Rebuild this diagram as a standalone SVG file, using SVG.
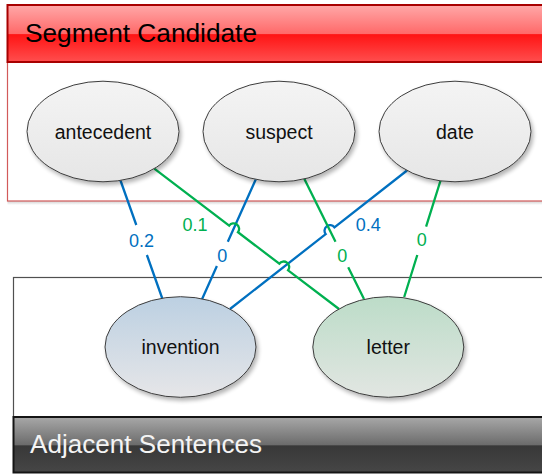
<svg xmlns="http://www.w3.org/2000/svg" width="542" height="475" viewBox="0 0 542 475">
  <defs>
    <linearGradient id="gHeadRed" x1="0" y1="0" x2="0" y2="1">
      <stop offset="0" stop-color="#ffa8a8"/>
      <stop offset="0.5" stop-color="#ff6a6a"/>
      <stop offset="0.52" stop-color="#ff1414"/>
      <stop offset="1" stop-color="#ff4e4e"/>
    </linearGradient>
    <linearGradient id="gHeadDark" x1="0" y1="0" x2="0" y2="1">
      <stop offset="0" stop-color="#a8a8a8"/>
      <stop offset="0.5" stop-color="#6c6c6c"/>
      <stop offset="0.52" stop-color="#383838"/>
      <stop offset="1" stop-color="#464646"/>
    </linearGradient>
    <linearGradient id="gShadow" x1="0" y1="0" x2="0" y2="1">
      <stop offset="0" stop-color="#d0d0d0"/>
      <stop offset="1" stop-color="#ffffff"/>
    </linearGradient>
    <linearGradient id="gGray" x1="0" y1="0" x2="0" y2="1">
      <stop offset="0" stop-color="#f4f4f4"/>
      <stop offset="1" stop-color="#e6e6e6"/>
    </linearGradient>
    <linearGradient id="gBlue" x1="0" y1="0" x2="0" y2="1">
      <stop offset="0" stop-color="#bcd0e2"/>
      <stop offset="1" stop-color="#e6e6e8"/>
    </linearGradient>
    <linearGradient id="gGreen" x1="0" y1="0" x2="0" y2="1">
      <stop offset="0" stop-color="#bcdcc8"/>
      <stop offset="1" stop-color="#e2e6e2"/>
    </linearGradient>
    <filter id="fShadow" x="-20%" y="-20%" width="140%" height="150%">
      <feGaussianBlur in="SourceAlpha" stdDeviation="2"/>
      <feOffset dx="2" dy="3" result="b"/>
      <feComponentTransfer><feFuncA type="linear" slope="0.3"/></feComponentTransfer>
      <feMerge><feMergeNode/><feMergeNode in="SourceGraphic"/></feMerge>
    </filter>
    <style>
      .node { stroke: #3c3c3c; stroke-width: 1; filter: url(#fShadow); }
      .lbl { font-family: "Liberation Sans", Arial, sans-serif; font-size: 19.5px; fill: #111111; text-anchor: middle; }
      .hdr { font-family: "Liberation Sans", Arial, sans-serif; font-size: 25px; }
      .blue { stroke: #0070c0; stroke-width: 2.3; fill: none; }
      .green { stroke: #00b050; stroke-width: 2.3; fill: none; }
      .wb { font-family: "Liberation Sans", Arial, sans-serif; font-size: 18px; fill: #0070c0; text-anchor: middle; }
      .wg { font-family: "Liberation Sans", Arial, sans-serif; font-size: 18px; fill: #00b050; text-anchor: middle; }
    </style>
  </defs>

  <!-- Segment Candidate container -->
  <g id="segment-candidate">
    <rect x="7.5" y="201" width="540" height="4" fill="url(#gShadow)"/>
    <rect x="7.5" y="62" width="540" height="139" fill="#ffffff" stroke="#d25a5a" stroke-width="1.2"/>
    <rect x="7.5" y="5" width="540" height="57" fill="url(#gHeadRed)" stroke="#a80000" stroke-width="2"/>
    <text class="hdr" x="25" y="42" fill="#000000" textLength="232" lengthAdjust="spacingAndGlyphs">Segment Candidate</text>
  </g>

  <!-- Adjacent Sentences container -->
  <g id="adjacent-sentences">
    <rect x="13.5" y="277.5" width="540" height="140" fill="#ffffff" stroke="#505050" stroke-width="1.2"/>
    <rect x="13.5" y="417" width="540" height="55.5" fill="url(#gHeadDark)" stroke="#151515" stroke-width="2"/>
    <text class="hdr" x="30" y="453" fill="#f4f4f4" textLength="232" lengthAdjust="spacingAndGlyphs">Adjacent Sentences</text>
  </g>

  <!-- connectors -->
  <g id="connectors">
    <!-- antecedent -> invention 0.2 -->
    <path class="blue" d="M120.5,180.5 L136.3,225 M146.9,255 L162.3,298.5"/>
    <text class="wb" x="141.6" y="246.5">0.2</text>
    <!-- suspect -> invention 0 -->
    <path class="blue" d="M256.3,178.3 L227.8,241.7 M216.9,266 L202,299.2"/>
    <text class="wb" x="222.3" y="261.8">0</text>
    <!-- date -> invention 0.4 (hop over green) -->
    <path class="blue" d="M407,170.5 L334.4,227.3 A5.5,5.5 0 0 0 325.7,234.1 L230,309"/>
    <text class="wb" x="368.3" y="231.3">0.4</text>
    <!-- antecedent -> letter 0.1 (hops) -->
    <path class="green" d="M154.3,168.7 L229.2,225.6 A5.5,5.5 0 0 1 238,232.2 L279.3,263.7 A5.5,5.5 0 0 1 288.1,270.3 L339,309"/>
    <text class="wg" x="195" y="231.3">0.1</text>
    <!-- suspect -> letter 0 -->
    <path class="green" d="M304,178.3 L335.5,241.7 M348.2,267.3 L364,299"/>
    <text class="wg" x="342.3" y="261.8">0</text>
    <!-- date -> letter 0 -->
    <path class="green" d="M440.7,180 L426.1,226.7 M417.3,255 L404.2,297"/>
    <text class="wg" x="421.7" y="245.8">0</text>
  </g>

  <!-- nodes -->
  <g id="node-antecedent">
    <ellipse class="node" cx="103" cy="131.5" rx="76" ry="50.3" fill="url(#gGray)"/>
    <text class="lbl" x="103" y="138.5">antecedent</text>
  </g>
  <g id="node-suspect">
    <ellipse class="node" cx="279" cy="131.5" rx="76" ry="50.3" fill="url(#gGray)"/>
    <text class="lbl" x="279" y="138.5">suspect</text>
  </g>
  <g id="node-date">
    <ellipse class="node" cx="455" cy="131.5" rx="76" ry="50.3" fill="url(#gGray)"/>
    <text class="lbl" x="455" y="138.5">date</text>
  </g>
  <g id="node-invention">
    <ellipse class="node" cx="180.5" cy="347" rx="75.5" ry="50.3" fill="url(#gBlue)"/>
    <text class="lbl" x="180.5" y="354">invention</text>
  </g>
  <g id="node-letter">
    <ellipse class="node" cx="388.3" cy="347" rx="75.5" ry="50.3" fill="url(#gGreen)"/>
    <text class="lbl" x="388.3" y="354">letter</text>
  </g>
</svg>
